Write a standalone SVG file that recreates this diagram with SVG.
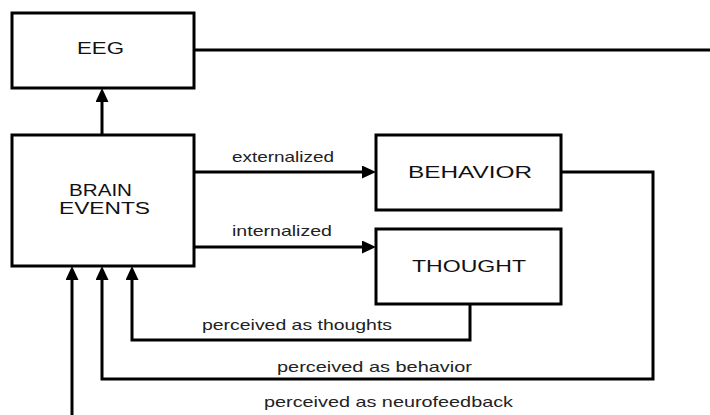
<svg xmlns="http://www.w3.org/2000/svg" width="710" height="415" viewBox="0 0 710 415">
<style>
.box{fill:#fff;stroke:#000;stroke-width:3}
.lbl{font-family:"Liberation Sans",Arial,sans-serif;font-size:16.5px;fill:#111;text-anchor:middle}
.lbl2{font-family:"Liberation Sans",Arial,sans-serif;font-size:16px;fill:#111;text-anchor:middle}
.sm{font-family:"Liberation Sans",Arial,sans-serif;font-size:14.5px;fill:#222;text-anchor:middle}
.ln{fill:none;stroke:#000;stroke-width:3}
</style>
<defs>
<marker id="ah" markerUnits="userSpaceOnUse" markerWidth="16" markerHeight="14" refX="4" refY="6.5" orient="auto">
<path d="M0,0 L14,6.5 L0,13 z" fill="#000"/>
</marker>
</defs>
<rect width="710" height="415" fill="#fff"/>
<g id="connectors">
<path class="ln" d="M194,50 H710"/>
<path class="ln" d="M102,135 V98" marker-end="url(#ah)"/>
<path class="ln" d="M194,172 H366" marker-end="url(#ah)"/>
<path class="ln" d="M194,247 H366" marker-end="url(#ah)"/>
<path class="ln" d="M470,304 V340 H132 V276" marker-end="url(#ah)"/>
<path class="ln" d="M561,172 H653 V379 H102 V276" marker-end="url(#ah)"/>
<path class="ln" d="M72,415 V276" marker-end="url(#ah)"/>
<text class="sm" x="283" y="162" textLength="102" lengthAdjust="spacingAndGlyphs">externalized</text>
<text class="sm" x="282" y="236" textLength="100" lengthAdjust="spacingAndGlyphs">internalized</text>
<text class="sm" x="297" y="330" textLength="190" lengthAdjust="spacingAndGlyphs">perceived as thoughts</text>
<text class="sm" x="374.5" y="372" textLength="195" lengthAdjust="spacingAndGlyphs">perceived as behavior</text>
<text class="sm" x="388.5" y="407" textLength="249" lengthAdjust="spacingAndGlyphs">perceived as neurofeedback</text>
</g>
<g id="eeg">
<rect class="box" x="12" y="13" width="182" height="75"/>
<text class="lbl" x="100.5" y="54" textLength="47" lengthAdjust="spacingAndGlyphs">EEG</text>
</g>
<g id="brain-events">
<rect class="box" x="12" y="135" width="182" height="131"/>
<text class="lbl2" x="100.5" y="196" textLength="63" lengthAdjust="spacingAndGlyphs">BRAIN</text>
<text class="lbl2" x="104.5" y="214" textLength="91" lengthAdjust="spacingAndGlyphs">EVENTS</text>
</g>
<g id="behavior">
<rect class="box" x="376" y="135" width="185" height="75"/>
<text class="lbl" x="470" y="178" textLength="124" lengthAdjust="spacingAndGlyphs">BEHAVIOR</text>
</g>
<g id="thought">
<rect class="box" x="376" y="229" width="185" height="75"/>
<text class="lbl" x="469" y="272" textLength="114" lengthAdjust="spacingAndGlyphs">THOUGHT</text>
</g>
</svg>
